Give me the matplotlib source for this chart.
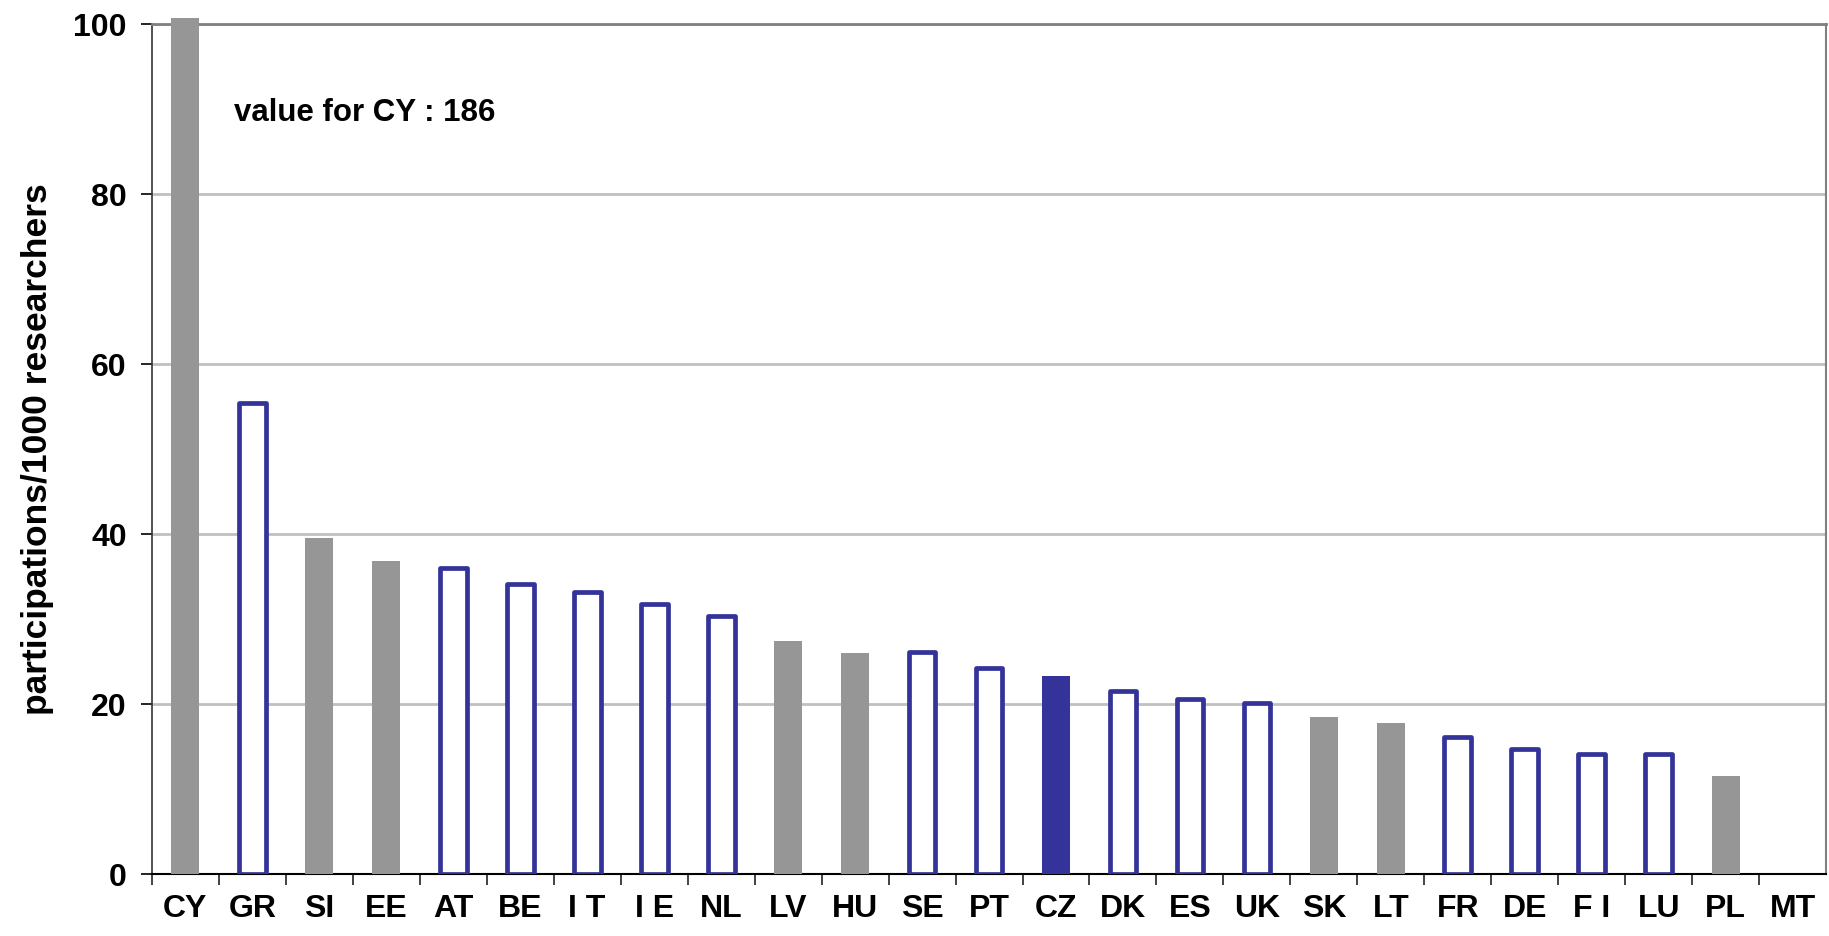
import numpy as np
import matplotlib
matplotlib.use("Agg")
import matplotlib.pyplot as plt

countries = ["CY", "GR", "SI", "EE", "AT", "BE", "IT", "IE", "NL", "LV", "HU", "SE", "PT",
             "CZ", "DK", "ES", "UK", "SK", "LT", "FR", "DE", "FI", "LU", "PL", "MT"]
tick_labels = ["CY", "GR", "SI", "EE", "AT", "BE", "I T", "I E", "NL", "LV", "HU", "SE", "PT",
               "CZ", "DK", "ES", "UK", "SK", "LT", "FR", "DE", "F I", "LU", "PL", "MT"]
values = [186, 55.4, 39.6, 36.9, 36.0, 34.2, 33.2, 31.8, 30.4, 27.5, 26.0, 26.1, 24.3,
          23.3, 21.6, 20.6, 20.2, 18.5, 17.8, 16.1, 14.7, 14.1, 14.1, 11.6, 0]
# g = grey filled, o = blue outline, f = blue filled
styles = ["g", "o", "g", "g", "o", "o", "o", "o", "o", "g", "g", "o", "o",
          "f", "o", "o", "o", "g", "g", "o", "o", "o", "o", "g", "g"]

grey = "#969696"
navy = "#333399"

plt.rcParams["font.family"] = ["Liberation Sans", "DejaVu Sans"]
plt.rcParams["font.weight"] = "bold"

fig = plt.figure(figsize=(18.29, 9.36), dpi=100)
ax = fig.add_axes([0.083, 0.066, 0.9155, 0.908])

x = np.arange(len(countries))
ymax = 100
for xi, v, s in zip(x, values, styles):
    h = min(v, ymax + 0.8)
    if s == "g":
        ax.bar(xi, h, width=0.42, color=grey, linewidth=0, zorder=3, clip_on=False)
    elif s == "f":
        ax.bar(xi, h, width=0.42, color=navy, linewidth=0, zorder=3)
    else:
        ax.bar(xi, h, width=0.40, facecolor="white", edgecolor=navy,
               linewidth=3.4, joinstyle="round", zorder=3)

ax.set_xlim(-0.5, len(countries) - 0.5)
ax.set_ylim(0, ymax)
ax.set_yticks([0, 20, 40, 60, 80, 100])
ax.yaxis.grid(True, color="#c0c0c0", linewidth=2, zorder=0)
ax.set_axisbelow(True)

ax.set_xticks(x)
ax.set_xticklabels(tick_labels, fontsize=23, fontweight="bold")
ax.tick_params(axis="x", which="major", length=0, pad=14)
ax.set_xticks(np.arange(-0.5, len(countries) - 1), minor=True)
ax.tick_params(axis="x", which="minor", length=8, width=1.2, direction="out", color="#222222")
ax.tick_params(axis="y", length=8, width=1.2, direction="out", pad=10, labelsize=23)
for lbl in ax.get_yticklabels():
    lbl.set_fontweight("bold")

ax.spines["left"].set_color("#333333")
ax.spines["left"].set_linewidth(1.2)
ax.spines["bottom"].set_color("#000000")
ax.spines["bottom"].set_linewidth(1.5)
ax.spines["top"].set_color("#808080")
ax.spines["top"].set_linewidth(2)
ax.spines["right"].set_color("#808080")
ax.spines["right"].set_linewidth(1.5)

ax.set_ylabel("participations/1000 researchers", fontsize=25.5, fontweight="bold", labelpad=14)
ax.text(0.72, 89.6, "value for CY : 186", fontsize=22.5, fontweight="bold", va="center", ha="left")

fig.savefig("out.png", dpi=100)
